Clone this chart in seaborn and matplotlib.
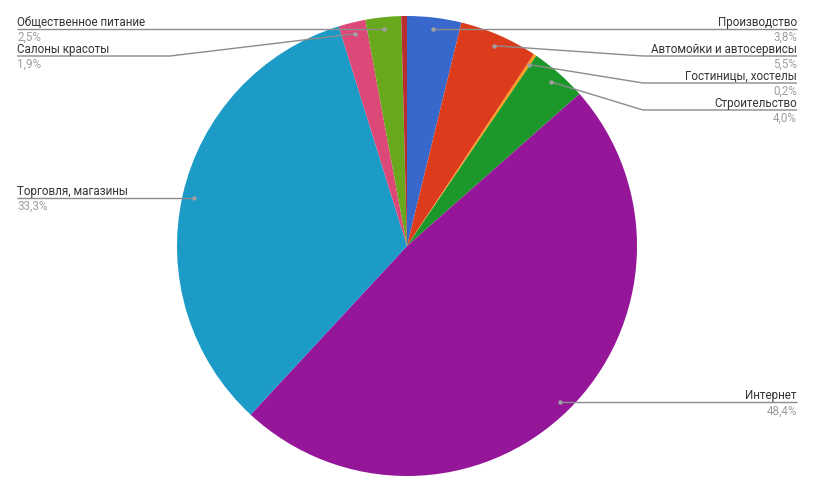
import numpy as np
import matplotlib
matplotlib.use("Agg")
import matplotlib.pyplot as plt
import seaborn as sns

# --- data ---
categories = ["Производство", "Автомойки и автосервисы", "Гостиницы, хостелы",
              "Строительство", "Интернет", "Торговля, магазины",
              "Салоны красоты", "Общественное питание", ""]
shares = [3.8, 5.5, 0.2, 4.0, 48.4, 33.3, 1.9, 2.5, 0.4]
pct_labels = ["3,8%", "5,5%", "0,2%", "4,0%", "48,4%", "33,3%", "1,9%", "2,5%", ""]
colors = ["#3868cb", "#dc3c1c", "#ff9a1a", "#1c972a", "#96169a",
          "#1b9bc6", "#dc4878", "#68a81c", "#b82e2e"]

# --- layout (pixels, origin top-left) ---
W, H = 819, 488
CX, CY, R = 407, 246, 230
side = ["r", "r", "r", "r", "r", "l", "l", "l", None]
label_y = [None, 56, 83, 110, None, None, 56, None, None]   # None -> straight line
bend_x = [None, 643, 643, 643, None, None, 170, None, None]
RIGHT_X, LEFT_X = 797, 17

sns.set_theme(style="white")
plt.rcParams["font.family"] = ["Roboto", "DejaVu Sans"]

fig = plt.figure(figsize=(W / 100, H / 100), dpi=100)
ax = fig.add_axes([0, 0, 1, 1])
ax.axis("off")

ax.pie(shares, colors=colors, startangle=90, counterclock=False,
       center=(CX, H - CY), radius=R,
       wedgeprops=dict(linewidth=0, antialiased=True))
ax.set_xlim(0, W)
ax.set_ylim(0, H)
ax.set_aspect("equal")

total = sum(shares)
cum = np.cumsum([0] + shares)
for i, name in enumerate(categories):
    if not name:
        continue
    mid = (cum[i] + cum[i + 1]) / 2 / total * 360
    theta = np.deg2rad(90 - mid)
    dx = CX + 0.95 * R * np.cos(theta)
    dy = CY - 0.95 * R * np.sin(theta)
    ly = label_y[i] if label_y[i] is not None else dy
    end_x = RIGHT_X if side[i] == "r" else LEFT_X
    if bend_x[i] is not None:
        xs = [dx, bend_x[i], end_x]
        ys = [dy, ly, ly]
    else:
        xs = [dx, end_x]
        ys = [ly, ly]
    ax.plot(xs, [H - y for y in ys], color="#8c8c8c", lw=1.0, solid_capstyle="butt")
    ax.plot([dx], [H - dy], "o", ms=3.2, color="#a0a0a0", mec="none")
    ha = "right" if side[i] == "r" else "left"
    ax.text(end_x, H - ly + 3, name, ha=ha, va="baseline", fontsize=8.4, color="#333333")
    ax.text(end_x, H - ly - 12, pct_labels[i], ha=ha, va="baseline", fontsize=8.4, color="#9e9e9e")

fig.savefig("out.png", dpi=100, facecolor="white")
